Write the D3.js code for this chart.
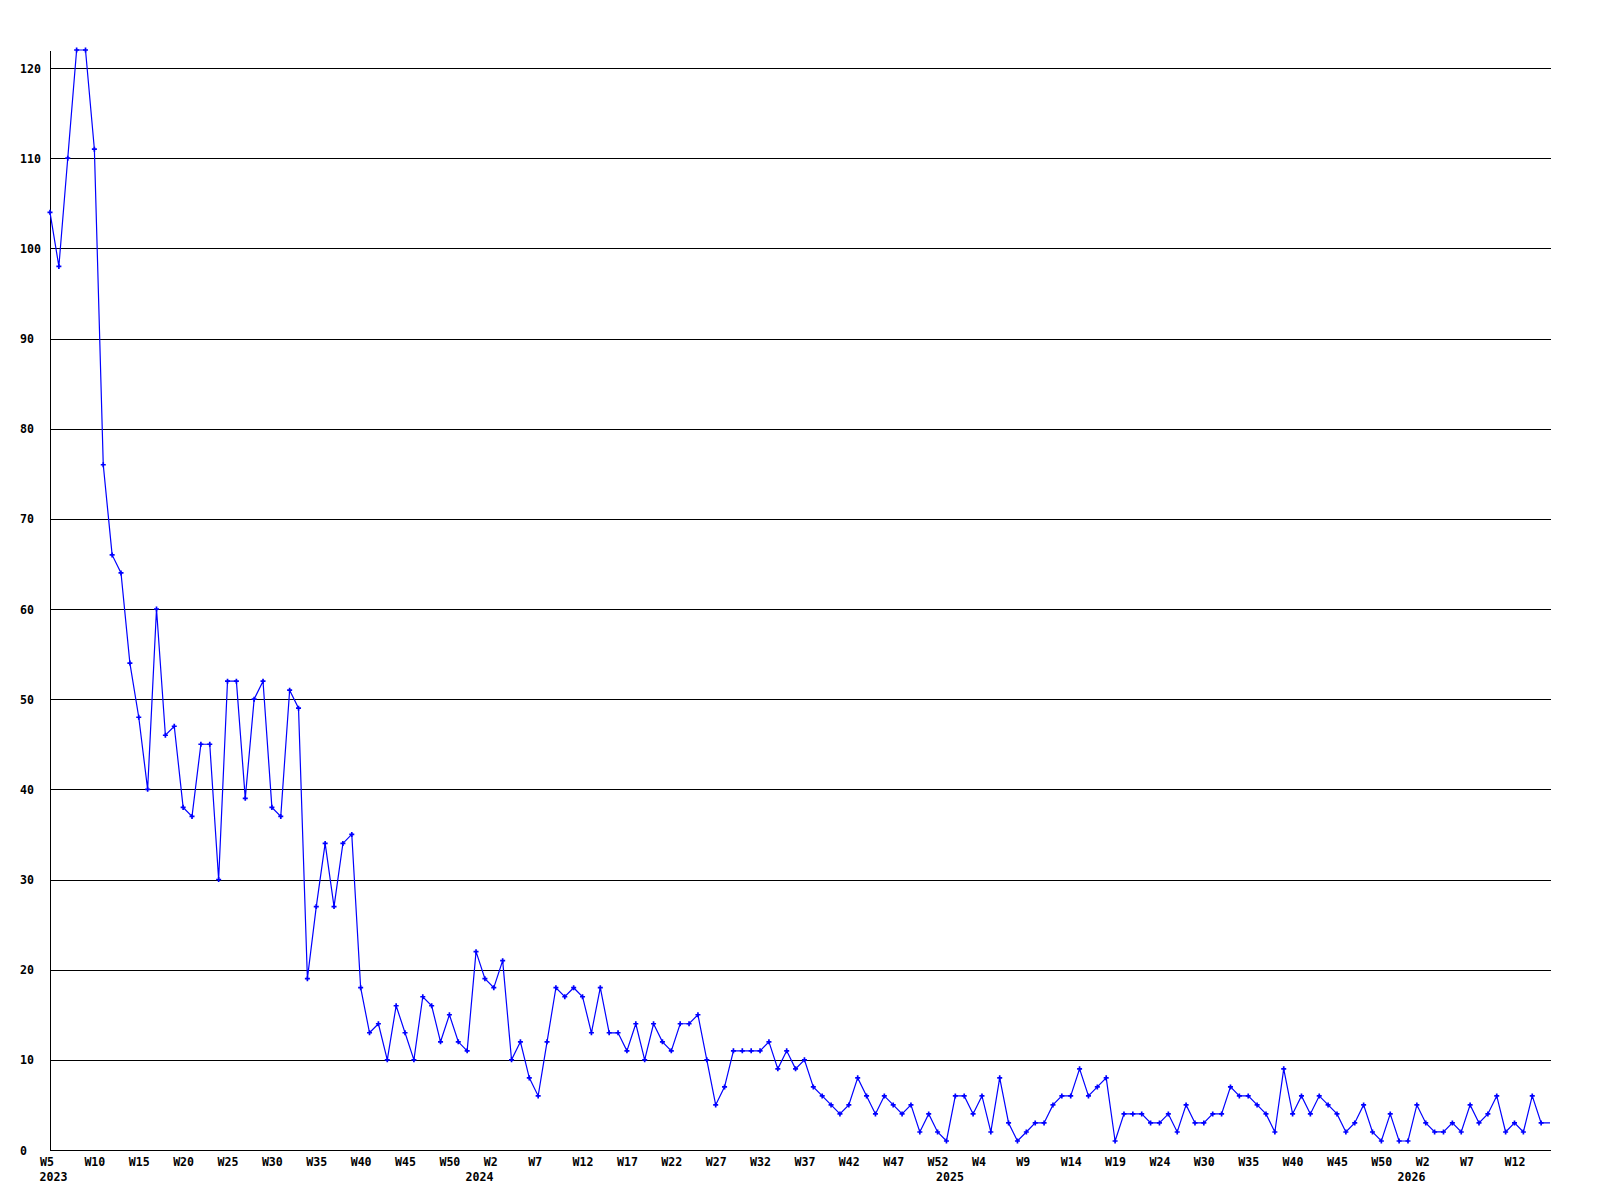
<!DOCTYPE html>
<html>
<head>
<meta charset="utf-8">
<script src="https://cdn.jsdelivr.net/npm/d3@7"></script>
<style>
  body { margin: 0; background: #fff; }
  text { font-family: 'DejaVu Sans Mono', monospace; font-weight: bold; font-size: 11.6px; fill: #000; }
</style>
</head>
<body>
<div id="graph"></div>
<script>
// weekly counts, 2023 W5 ... 2026 W16
const counts = [
  104, 98, 110, 122, 122, 111, 76, 66, 64, 54,
  48, 40, 60, 46, 47, 38, 37, 45, 45, 30,
  52, 52, 39, 50, 52, 38, 37, 51, 49, 19,
  27, 34, 27, 34, 35, 18, 13, 14, 10, 16,
  13, 10, 17, 16, 12, 15, 12, 11, 22, 19,
  18, 21, 10, 12, 8, 6, 12, 18, 17, 18,
  17, 13, 18, 13, 13, 11, 14, 10, 14, 12,
  11, 14, 14, 15, 10, 5, 7, 11, 11, 11,
  11, 12, 9, 11, 9, 10, 7, 6, 5, 4,
  5, 8, 6, 4, 6, 5, 4, 5, 2, 4,
  2, 1, 6, 6, 4, 6, 2, 8, 3, 1,
  2, 3, 3, 5, 6, 6, 9, 6, 7, 8,
  1, 4, 4, 4, 3, 3, 4, 2, 5, 3,
  3, 4, 4, 7, 6, 6, 5, 4, 2, 9,
  4, 6, 4, 6, 5, 4, 2, 3, 5, 2,
  1, 4, 1, 1, 5, 3, 2, 2, 3, 2,
  5, 3, 4, 6, 2, 3, 2, 6, 3, 3
];

// one label every 5th week
const tickEvery = 5;
const tickLabels = [
  'W5', 'W10', 'W15', 'W20', 'W25', 'W30', 'W35', 'W40', 'W45', 'W50',
  'W2', 'W7', 'W12', 'W17', 'W22', 'W27', 'W32', 'W37', 'W42', 'W47', 'W52',
  'W4', 'W9', 'W14', 'W19', 'W24', 'W30', 'W35', 'W40', 'W45', 'W50',
  'W2', 'W7', 'W12'
];

// year names and the index of the first week of each year
const years = ['2023', '2024', '2025', '2026'];
const yearStart = [0, 48, 101, 153];

const yTicks = d3.range(0, 121, 10);

const width = 1600;
const height = 1200;
const margin = {left: 50, right: 1550, top: 50, bottom: 1150};

let svg = d3.select('#graph').append('svg')
    .attr('width', width)
    .attr('height', height);

let x = d3.scaleLinear()
    .domain([0, counts.length - 1])
    .range([margin.left, margin.right]);

let y = d3.scaleLinear()
    .domain([0, d3.max(counts)])
    .range([margin.bottom, margin.top]);

// grid + y labels
let yAxis = svg.append('g')
    .attr('transform', 'translate(' + margin.left + ',0)')
    .call(d3.axisLeft(y)
        .tickValues(yTicks)
        .tickSize(-(margin.right - margin.left + 1))
        .tickSizeOuter(0)
        .tickFormat(d3.format('d')));

yAxis.selectAll('.tick line')
    .attr('stroke', '#000')
    .attr('shape-rendering', 'crispEdges');
yAxis.select('.domain')
    .attr('stroke', '#000')
    .attr('shape-rendering', 'crispEdges');
yAxis.selectAll('.tick text')
    .attr('x', 20 - margin.left)
    .attr('dy', '0.35em')
    .attr('text-anchor', 'start');
yAxis.attr('font-family', null).attr('font-size', null);

// x axis with week labels
let xAxis = svg.append('g')
    .attr('transform', 'translate(0,' + margin.bottom + ')')
    .call(d3.axisBottom(x)
        .tickValues(tickLabels.map((d, i) => i * tickEvery))
        .tickSize(0)
        .tickSizeOuter(0)
        .tickPadding(0)
        .tickFormat((d, i) => tickLabels[i]));

xAxis.select('.domain')
    .attr('d', 'M' + margin.left + ',0.5H' + (margin.right + 1))
    .attr('stroke', '#000')
    .attr('shape-rendering', 'crispEdges');
xAxis.selectAll('.tick text')
    .attr('x', -10.5)
    .attr('y', 16)
    .attr('dy', null)
    .attr('text-anchor', 'start');
xAxis.attr('font-family', null).attr('font-size', null);

// year labels under the first week of each year
svg.append('g')
    .selectAll('text')
    .data(years)
    .enter()
    .append('text')
    .attr('x', (d, i) => x(yearStart[i]) - 10.5)
    .attr('y', margin.bottom + 31)
    .text(d => d);

// the series
let line = d3.line()
    .x((d, i) => x(i))
    .y(d => y(d));

svg.append('path')
    .datum(counts)
    .attr('d', line)
    .attr('fill', 'none')
    .attr('stroke', '#0000ff')
    .attr('stroke-width', 1.2);

// markers (the last, still running week has none)
svg.append('g')
    .selectAll('path')
    .data(counts.slice(0, -1))
    .enter()
    .append('path')
    .attr('d', d3.symbol().type(d3.symbolCross).size(14))
    .attr('transform', (d, i) => 'translate(' + x(i) + ',' + y(d) + ')')
    .attr('fill', '#0000ff');
</script>
</body>
</html>
